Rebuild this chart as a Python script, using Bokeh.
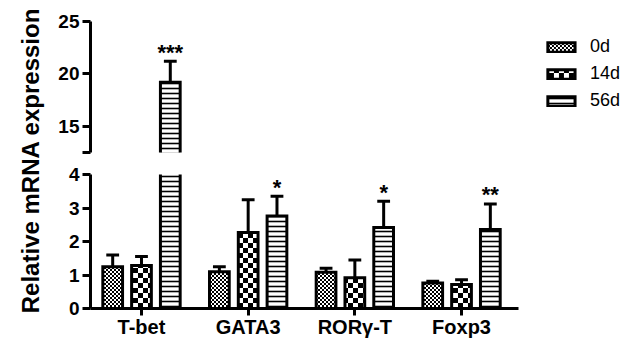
import zlib, struct, base64
import numpy as np
from bokeh.plotting import figure
from bokeh.models import (Range1d, FixedTicker, ColumnDataSource, Legend, LegendItem,
                          Label, ImageURLTexture, CDSView, BooleanFilter)
from bokeh.layouts import row, column
from bokeh.core.properties import value
from bokeh.embed import file_html
from bokeh.resources import INLINE

# ---------------- data ----------------
genes = ["T-bet", "GATA3", "RORγ-T", "Foxp3"]
series = ["0d", "14d", "56d"]
mean_0d = [1.25, 1.10, 1.08, 0.76]
err_0d = [0.35, 0.15, 0.12, 0.05]
mean_14d = [1.28, 2.27, 0.92, 0.72]
err_14d = [0.27, 0.98, 0.53, 0.14]
mean_56d = [19.2, 2.76, 2.42, 2.36]
err_56d = [2.0, 0.59, 0.78, 0.76]
sig_56d = ["***", "*", "*", "**"]
lower_ticks = [0, 1, 2, 3, 4]
upper_ticks = [12.5, 15, 20, 25]
y_label = "Relative mRNA expression"

# ---------------- style ----------------
FONT = "Liberation Sans"
offsets = [-0.27, 0.0, 0.27]
BAR_W = 0.185
CAP_HALF = 0.06
FIG_W = 587
BORDER_L = 42
AXIS_W = 428            # pixel length of the x axis
X0, X1 = -0.478, 3.534  # data span of the x axis


def png_checker(cell):
    n = 2 * cell
    raw = b""
    for y in range(n):
        line = bytearray([0])
        for x in range(n):
            black = ((x // cell) + (y // cell)) % 2 == 0
            line += bytes([0, 0, 0, 255]) if black else bytes([255, 255, 255, 255])
        raw += bytes(line)

    def chunk(t, d):
        c = struct.pack(">I", len(d)) + t + d
        return c + struct.pack(">I", zlib.crc32(t + d) & 0xffffffff)

    png = (b"\x89PNG\r\n\x1a\n"
           + chunk(b"IHDR", struct.pack(">IIBBBBB", n, n, 8, 6, 0, 0, 0))
           + chunk(b"IDAT", zlib.compress(raw))
           + chunk(b"IEND", b""))
    return "data:image/png;base64," + base64.b64encode(png).decode()


hatch_styles = [
    dict(hatch_pattern=value("dot"), hatch_extra={"dot": ImageURLTexture(url=png_checker(2))}),
    dict(hatch_pattern=value("ring"), hatch_extra={"ring": ImageURLTexture(url=png_checker(5))}),
    dict(hatch_pattern=value("horizontal_line"), hatch_scale=5, hatch_weight=1.6),
]

means = [mean_0d, mean_14d, mean_56d]
errs = [err_0d, err_14d, err_56d]
idx = np.arange(len(genes))

sources = []
for j in range(3):
    m = np.array(means[j])
    e = np.array(errs[j])
    x = idx + offsets[j]
    d = dict(x=x, top=m, mid=m / 2, err_top=m + e, xl=x - CAP_HALF, xr=x + CAP_HALF)
    d["sig"] = sig_56d if j == 2 else [""] * len(genes)
    sources.append(ColumnDataSource(d))

ppu = AXIS_W / (X1 - X0)
FRAME_W = FIG_W - BORDER_L
shared_x = Range1d(X0, X0 + FRAME_W / ppu)


def make_fig(height, y0, y1, ticks, top, bottom, show_x):
    p = figure(width=FIG_W, height=height, x_range=shared_x, y_range=Range1d(y0, y1),
               output_backend="svg", toolbar_location=None,
               min_border_left=BORDER_L, min_border_right=0,
               min_border_top=top, min_border_bottom=bottom,
               x_axis_location="below" if show_x else None)
    p.grid.visible = False
    p.outline_line_color = None
    p.background_fill_color = "white"
    ax = p.yaxis[0]
    ax.ticker = FixedTicker(ticks=ticks)
    ax.major_label_overrides = {t: "" for t in ticks if t not in (0, 1, 2, 3, 4, 15, 20, 25)}
    ax.axis_line_width = 3
    ax.axis_line_color = "black"
    ax.major_tick_line_width = 3
    ax.major_tick_line_color = "black"
    ax.major_tick_out = 8
    ax.major_tick_in = 0
    ax.minor_tick_line_color = None
    ax.major_label_text_font = FONT
    ax.major_label_text_font_size = "19px"
    ax.major_label_text_font_style = "bold"
    ax.major_label_text_color = "black"
    ax.major_label_standoff = 3
    if show_x:
        xa = p.xaxis[0]
        xa.bounds = (X0, X1)
        xa.ticker = FixedTicker(ticks=list(idx))
        xa.major_label_overrides = {int(i): g for i, g in zip(idx, genes)}
        xa.axis_line_width = 3
        xa.axis_line_color = "black"
        xa.major_tick_line_width = 3
        xa.major_tick_line_color = "black"
        xa.major_tick_out = 7
        xa.major_tick_in = 0
        xa.minor_tick_line_color = None
        xa.major_label_text_font = FONT
        xa.major_label_text_font_size = "20px"
        xa.major_label_text_font_style = "bold"
        xa.major_label_text_color = "black"
        xa.major_label_standoff = 0
    renderers = []
    for j in range(3):
        tops = np.array(means[j])
        etops = tops + np.array(errs[j])
        r = p.rect(x="x", y="mid", width=BAR_W, height="top", source=sources[j],
                   fill_color="white", line_color="black", line_width=3,
                   line_join="miter", hatch_color="black", **hatch_styles[j])
        renderers.append(r)
        ev = CDSView(filter=BooleanFilter([bool(t > y0 and e < y1) for t, e in zip(tops, etops)]))
        p.segment(x0="x", y0="top", x1="x", y1="err_top", source=sources[j], view=ev,
                  line_color="black", line_width=3)
        p.segment(x0="xl", y0="err_top", x1="xr", y1="err_top", source=sources[j],
                  view=ev, line_color="black", line_width=3)
        if j == 2:
            p.text(x="x", y="err_top", text="sig", source=sources[j], view=ev,
                   text_align="center", text_baseline="alphabetic", y_offset=-9,
                   text_font=value(FONT), text_font_size=value("22px"),
                   text_font_style="bold", text_color="black")
    return p, renderers


upper, up_r = make_fig(163, 12.5, 25, upper_ticks, 21, 11, False)
lower, _ = make_fig(177, 0, 4, lower_ticks, 11, 0, True)

legend = Legend(items=[LegendItem(label=s, renderers=[r]) for s, r in zip(series, up_r)],
                location="top_right", orientation="vertical",
                border_line_color=None, background_fill_alpha=0,
                glyph_width=34, glyph_height=12, label_standoff=12,
                label_text_font=FONT, label_text_font_size="18px",
                label_text_color="black", spacing=6, padding=0, margin=15)
upper.add_layout(legend)

lab = figure(width=48, height=340, x_range=Range1d(0, 48), y_range=Range1d(0, 340),
             output_backend="svg", toolbar_location=None, min_border=0,
             x_axis_location=None, y_axis_location=None)
lab.outline_line_color = None
lab.grid.visible = False
lab.add_layout(Label(x=30, y=340 - 160, text=y_label, angle=90, angle_units="deg",
                     text_align="center", text_baseline="middle", text_font=FONT,
                     text_font_size="24px", text_font_style="bold", text_color="black"))

layout = row(lab, column(upper, lower))
open("out.html", "w").write(file_html(layout, INLINE))
